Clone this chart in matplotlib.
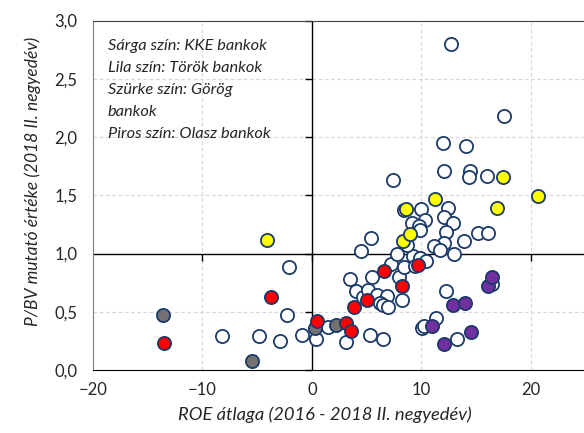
import numpy as np
import matplotlib
matplotlib.use("Agg")
import matplotlib.pyplot as plt

plt.rcParams['font.family'] = ['Lato', 'DejaVu Sans']

# ROE átlaga (x) és P/BV (y) - egyéb bankok (fehér)
feher_x = [-8.2, -4.8, -2.9, -2.25, -2.06, -0.9, 0.4, 1.5,
           3.14, 5.26, 6.5, 3.44, 4.05, 4.65, 5.1, 5.9, 6.9, 6.2, 6.5, 6.95,
           5.5, 7.95, 8.25, 7.2, 8.4, 7.8, 4.5, 5.4, 9.2, 9.9, 10.4, 9.4,
           7.4, 8.45, 10.0, 12.45, 9.16, 10.35, 9.75, 9.83, 12.1, 12.87, 12.22,
           15.15, 16.06, 13.9, 12.03, 11.15, 11.65, 13.0, 8.7,
           12.0, 14.1, 12.02, 14.4, 14.33, 15.97, 17.58, 12.68,
           12.2, 16.4, 11.3, 10.07, 10.2, 13.2]
feher_y = [0.29, 0.29, 0.25, 0.47, 0.88, 0.30, 0.27, 0.37,
           0.24, 0.30, 0.265, 0.78, 0.68, 0.63, 0.69, 0.64, 0.635, 0.575, 0.56, 0.54,
           0.80, 0.80, 0.605, 0.91, 0.885, 1.0, 1.02, 1.13, 0.975, 0.96, 0.94, 0.89,
           1.63, 1.375, 1.385, 1.39, 1.265, 1.285, 1.235, 1.2, 1.315, 1.262, 1.185,
           1.177, 1.177, 1.11, 1.088, 1.065, 1.03, 1.0, 1.07,
           1.95, 1.92, 1.71, 1.705, 1.655, 1.665, 2.18, 2.80,
           0.675, 0.74, 0.445, 0.363, 0.38, 0.268]

# Görög bankok (szürke)
gorog_x = [-13.6, -5.5, 0.3, 2.2]
gorog_y = [0.475, 0.08, 0.36, 0.39]

# Olasz bankok (piros)
olasz_x = [-13.5, -3.7, 0.46, 3.14, 3.6, 3.8, 5.0, 6.55, 8.25, 9.73]
olasz_y = [0.23, 0.63, 0.42, 0.40, 0.335, 0.537, 0.60, 0.846, 0.722, 0.90]

# KKE bankok (sárga)
kke_x = [-4.07, 8.3, 8.92, 8.6, 11.26, 16.9, 17.43, 20.68]
kke_y = [1.12, 1.11, 1.17, 1.38, 1.465, 1.39, 1.66, 1.49]

# Török bankok (lila)
torok_x = [11.0, 12.1, 12.9, 14.02, 14.54, 16.05, 16.45]
torok_y = [0.377, 0.223, 0.56, 0.571, 0.33, 0.72, 0.80]

x_ticks = [-20, -10, 0, 10, 20]
y_ticks = [0.0, 0.5, 1.0, 1.5, 2.0, 2.5, 3.0]

szel = '#1B3A6B'
meret = 90

fig = plt.figure(figsize=(5.84, 4.33), dpi=100)
ax = fig.add_axes([0.159, 0.1455, 0.844, 0.807])

# rácsvonalak
for gx in [-10, 10, 20]:
    ax.axvline(gx, color='#D9D9D9', linestyle=(0, (3, 2)), linewidth=0.9, zorder=0)
for gy in [0.5, 1.5, 2.0, 2.5]:
    ax.axhline(gy, color='#D9D9D9', linestyle=(0, (3, 2)), linewidth=0.9, zorder=0)
ax.axvline(0, color='black', linewidth=1.0, zorder=1)
ax.axhline(1.0, color='black', linewidth=1.0, zorder=1)

# osztásjelek a tengelyeken
ax.plot(np.zeros(len(y_ticks)), y_ticks, linestyle='none', marker=0,
        markersize=5, color='black', markeredgewidth=1.0, zorder=1, clip_on=False)
ax.plot(x_ticks[1:], np.ones(len(x_ticks) - 1), linestyle='none', marker=3,
        markersize=5, color='black', markeredgewidth=1.0, zorder=1)

ax.scatter(feher_x, feher_y, s=meret, facecolor='white', edgecolor=szel, linewidth=1.3, zorder=3)
ax.scatter(gorog_x, gorog_y, s=meret, facecolor='#767171', edgecolor=szel, linewidth=1.3, zorder=4)
ax.scatter(olasz_x, olasz_y, s=meret, facecolor='#FF0000', edgecolor=szel, linewidth=1.3, zorder=5)
ax.scatter(kke_x, kke_y, s=meret, facecolor='#FFFF00', edgecolor=szel, linewidth=1.3, zorder=6)
ax.scatter(torok_x, torok_y, s=meret, facecolor='#7030A0', edgecolor=szel, linewidth=1.3, zorder=7)

ax.set_xlim(-20, 25)
ax.set_ylim(0, 3)
ax.set_xticks(x_ticks)
ax.set_yticks(y_ticks)
ax.set_yticklabels([f'{v:.1f}'.replace('.', ',') for v in y_ticks])
ax.tick_params(length=0, labelsize=12, colors='#262626')
ax.tick_params(axis='y', pad=11)
ax.tick_params(axis='x', pad=9)

ax.spines['right'].set_visible(False)
ax.spines['left'].set_color('#7F7F7F')
ax.spines['top'].set_color('#404040')
ax.spines['bottom'].set_color('black')

ax.set_xlabel('ROE átlaga (2016 - 2018 II. negyedév)', fontsize=13.2, style='italic', color='#262626')
ax.xaxis.set_label_coords(0.47, -0.105)
ax.set_ylabel('P/BV mutató értéke (2018 II. negyedév)', fontsize=12.5, style='italic', color='#262626')
ax.yaxis.set_label_coords(-0.106, 0.54)

ax.text(0.03, 0.947, 'Sárga szín: KKE bankok\nLila szín: Török bankok\nSzürke szín: Görög\nbankok\nPiros szín: Olasz bankok',
        transform=ax.transAxes, fontsize=11.8, style='italic', va='top', ha='left',
        linespacing=1.72, color='#262626')

fig.savefig('out.png', dpi=100)
